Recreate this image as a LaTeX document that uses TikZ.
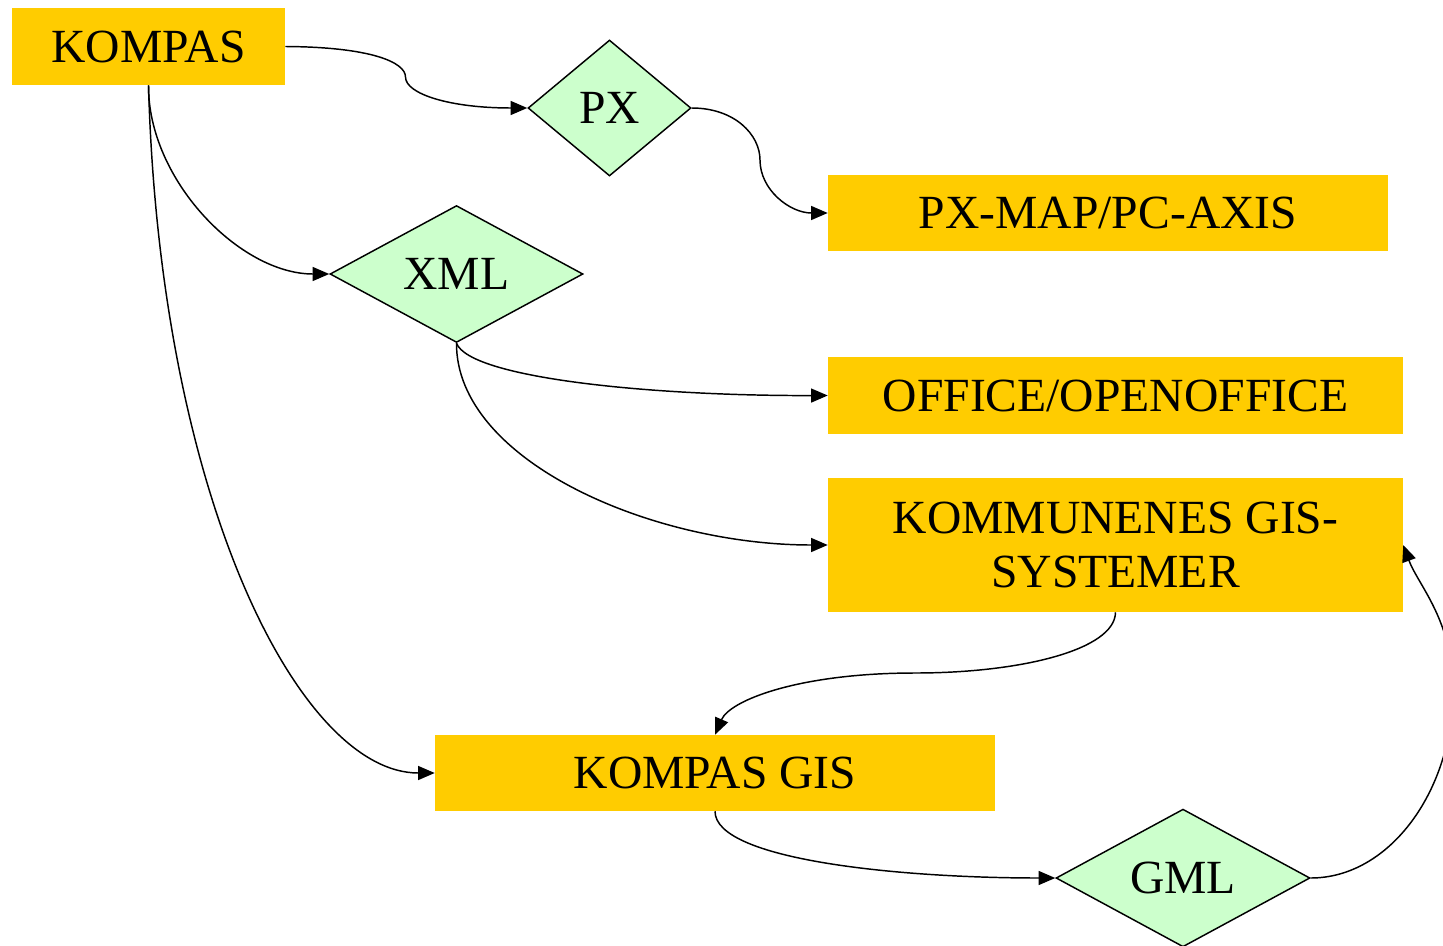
\documentclass[tikz,border=0pt]{standalone}
\usepackage{fontspec}
\setmainfont{Liberation Serif}
\usetikzlibrary{shapes.geometric,arrows.meta}
\definecolor{boxorange}{HTML}{FFCC00}
\definecolor{diagreen}{HTML}{CCFFCC}
\begin{document}
\begin{tikzpicture}[x=0.75pt,y=-0.75pt,
  box/.style={rectangle,fill=boxorange,inner sep=0pt,align=center,
    font=\fontsize{35.7pt}{41pt}\selectfont},
  dia/.style={diamond,draw=black,line width=1.1pt,fill=diagreen,inner sep=0pt,
    font=\fontsize{35.7pt}{41pt}\selectfont},
  conn/.style={draw=black,line width=1.1pt,-{Triangle[length=12.5pt,width=10.5pt]}}]
\useasboundingbox (0,0) rectangle (1443,946);
\clip (0,0) rectangle (1443,946);
\node[box,minimum width=204.75pt,minimum height=57.75pt] (kompas) at (148.5,46.5) {\raisebox{-2pt}{KOMPAS}};
\node[dia,minimum width=122.25pt,minimum height=102pt] (px) at (609.5,108) {\raisebox{-2pt}{PX}};
\node[box,minimum width=420pt,minimum height=57pt] (pxmap) at (1108,213) {\raisebox{-2pt}{PX-MAP/PC-AXIS}};
\node[dia,minimum width=189.75pt,minimum height=102pt] (xml) at (456.5,274) {\raisebox{-2pt}{XML}};
\node[box,minimum width=431.25pt,minimum height=57.75pt] (office) at (1115.5,395.5) {\raisebox{-2pt}{OFFICE/OPENOFFICE}};
\node[box,minimum width=431.25pt,minimum height=100.5pt] (kgis) at (1115.5,545) {KOMMUNENES GIS-\\SYSTEMER};
\node[box,minimum width=420pt,minimum height=57pt] (kompasgis) at (715,773) {\raisebox{-2pt}{KOMPAS GIS}};
\node[dia,minimum width=190.5pt,minimum height=102pt] (gml) at (1183,878) {\raisebox{-2pt}{GML}};
\coordinate (m1) at (405.5,77);
\coordinate (m2) at (760,160);
\coordinate (m3) at (915,673);
\coordinate (m4) at (1453,690);
\draw[conn] (kompas.east) .. controls (370,47) and (405.5,62) .. (m1)
  .. controls (405.5,94) and (450,108) .. (px.west);
\draw[conn] (px.east) .. controls (735,108) and (760,135) .. (m2)
  .. controls (760,190) and (790,213) .. (pxmap.west);
\draw[conn] (kompas.south) .. controls (148,180) and (240,274) .. (xml.west);
\draw[conn] (kompas.south) .. controls (160,500) and (300,773) .. (kompasgis.west);
\draw[conn] (xml.south) .. controls (470,378) and (650,396) .. (office.west);
\draw[conn] (xml.south) .. controls (456,460) and (650,545) .. (kgis.west);
\draw[conn] (kgis.south) .. controls (1115,650) and (1020,673) .. (m3)
  .. controls (800,673) and (730,700) .. (kompasgis.north);
\draw[conn] (kompasgis.south) .. controls (715,860) and (900,878) .. (gml.west);
\draw[conn] (gml.east) .. controls (1390,878) and (1453,790) .. (m4)
  .. controls (1453,620) and (1418,585) .. (kgis.east);
\end{tikzpicture}
\end{document}
